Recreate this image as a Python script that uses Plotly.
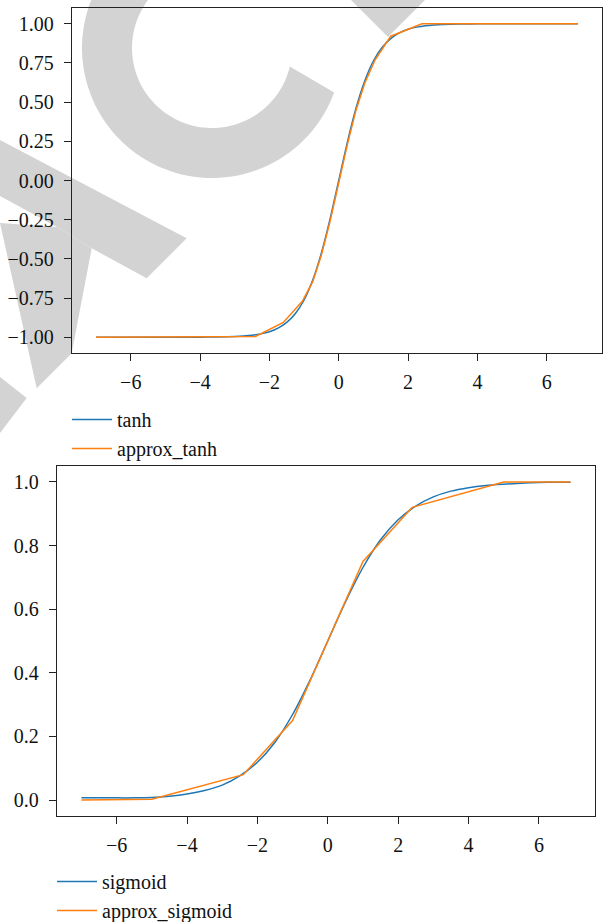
import numpy as np
import plotly.graph_objects as go

# ---------------- data ----------------
tanh_x = [-7.0, -6.0, -5.0, -4.0, -3.5, -3.0, -2.75, -2.5, -2.25, -2.0, -1.75, -1.5, -1.25,
          -1.0, -0.75, -0.5, -0.25, 0.0, 0.25, 0.5, 0.75, 1.0, 1.25, 1.5, 1.75, 2.0, 2.25,
          2.5, 2.75, 3.0, 3.5, 4.0, 5.0, 6.0, 6.9]
tanh_y = [-1.0, -1.0, -1.0, -0.999, -0.998, -0.995, -0.992, -0.987, -0.978, -0.964, -0.941,
          -0.905, -0.848, -0.762, -0.635, -0.462, -0.245, 0.0, 0.245, 0.462, 0.635, 0.762,
          0.848, 0.905, 0.941, 0.964, 0.978, 0.987, 0.992, 0.995, 0.998, 0.999, 1.0, 1.0, 1.0]

approx_tanh_x = [-7.0, -2.4, -1.6, -1.05, -0.75, -0.5, -0.25, 0.0, 0.25, 0.5, 0.75, 1.05,
                 1.5, 2.4, 6.9]
approx_tanh_y = [-1.0, -0.995, -0.905, -0.77, -0.645, -0.475, -0.26, -0.01, 0.23, 0.45,
                 0.62, 0.77, 0.92, 1.0, 1.0]

sigmoid_x = [-7.0, -6.5, -6.0, -5.5, -5.0, -4.5, -4.0, -3.5, -3.0, -2.5, -2.0, -1.5, -1.0,
             -0.5, 0.0, 0.5, 1.0, 1.5, 2.0, 2.5, 3.0, 3.5, 4.0, 4.5, 5.0, 5.5, 6.0, 6.5, 6.9]
sigmoid_y = [0.007, 0.007, 0.007, 0.007, 0.008, 0.012, 0.019, 0.030, 0.047, 0.076, 0.119,
             0.182, 0.269, 0.378, 0.5, 0.622, 0.731, 0.818, 0.881, 0.924, 0.953, 0.971,
             0.982, 0.989, 0.993, 0.996, 0.998, 0.999, 0.999]

approx_sigmoid_x = [-7.0, -5.0, -2.4, -1.0, 1.0, 2.4, 5.0, 6.9]
approx_sigmoid_y = [0.0, 0.003, 0.08, 0.25, 0.75, 0.92, 1.0, 1.0]

tanh_ticks = [-1.0, -0.75, -0.5, -0.25, 0.0, 0.25, 0.5, 0.75, 1.0]
sig_ticks = [0.0, 0.2, 0.4, 0.6, 0.8, 1.0]
x_ticks = [-6, -4, -2, 0, 2, 4, 6]

# ---------------- style ----------------
W, H = 605, 922
FONT = "Liberation Serif"
BLUE = "#1f77b4"
ORANGE = "#ff7f0e"
LW = 1.5
GRAY = "#d3d3d3"


def px(x, y):
    return x / W, 1 - y / H


def path_from(points):
    pts = [px(x, y) for x, y in points]
    return "M " + " L ".join(f"{a:.5f},{b:.5f}" for a, b in pts) + " Z"


fig = go.Figure()
fig.add_trace(go.Scatter(x=tanh_x, y=tanh_y, name="tanh", mode="lines",
                         line=dict(color=BLUE, width=LW, shape="spline", smoothing=0.8),
                         xaxis="x", yaxis="y", legend="legend"))
fig.add_trace(go.Scatter(x=approx_tanh_x, y=approx_tanh_y, name="approx_tanh", mode="lines",
                         line=dict(color=ORANGE, width=LW),
                         xaxis="x", yaxis="y", legend="legend"))
fig.add_trace(go.Scatter(x=sigmoid_x, y=sigmoid_y, name="sigmoid", mode="lines",
                         line=dict(color=BLUE, width=LW, shape="spline", smoothing=0.8),
                         xaxis="x2", yaxis="y2", legend="legend2"))
fig.add_trace(go.Scatter(x=approx_sigmoid_x, y=approx_sigmoid_y, name="approx_sigmoid",
                         mode="lines", line=dict(color=ORANGE, width=LW),
                         xaxis="x2", yaxis="y2", legend="legend2"))

axis_common = dict(showgrid=False, zeroline=False, showline=True, mirror=True,
                   linecolor="#222", linewidth=1.3, ticks="outside", ticklen=7,
                   tickwidth=1.2, tickcolor="#222", automargin=False,
                   tickfont=dict(family=FONT, size=20, color="#111"))

leg_common = dict(xanchor="left", yanchor="middle", xref="container", yref="container",
                  bgcolor="rgba(0,0,0,0)",
                  font=dict(family=FONT, size=20, color="#111"),
                  itemwidth=40, tracegroupgap=0)

fig.update_layout(
    width=W, height=H,
    margin=dict(l=0, r=0, t=0, b=0, autoexpand=False),
    paper_bgcolor="white",
    plot_bgcolor="rgba(0,0,0,0)",
    font=dict(family=FONT, size=20, color="#111"),
    xaxis=dict(domain=[72 / W, 602 / W], range=[-7.695, 7.595], anchor="y",
               tickvals=x_ticks, ticklabelstandoff=4, **axis_common),
    yaxis=dict(domain=[1 - 353 / H, 1 - 8 / H], range=[-1.1, 1.1], anchor="x",
               tickvals=tanh_ticks, tickformat=".2f", ticklabelstandoff=6, **axis_common),
    xaxis2=dict(domain=[57 / W, 595 / W], range=[-7.695, 7.595], anchor="y2",
                tickvals=x_ticks, ticklabelstandoff=4, **axis_common),
    yaxis2=dict(domain=[1 - 816 / H, 1 - 466 / H], range=[-0.05, 1.05], anchor="x2",
                tickvals=sig_ticks, tickformat=".1f", ticklabelstandoff=6, **axis_common),
    legend=dict(x=(72 - 5) / W, y=1 - 434 / H, **leg_common),
    legend2=dict(x=(57 - 5) / W, y=1 - 896 / H, **leg_common),
)

# ---------------- watermark (light gray letters behind the plot) ----------------
shapes = []
# "C" ring
cx, cy, r_in, r_out = 212, 48, 80, 130
a_out = np.radians(np.linspace(20, 240, 80))
a_in = np.radians(np.linspace(240, 13.4, 80))
ring = [(cx + r_out * np.cos(a), cy + r_out * np.sin(a)) for a in a_out] + \
       [(cx + r_in * np.cos(a), cy + r_in * np.sin(a)) for a in a_in]
shapes.append(path_from(ring))
# stroke end near the top
shapes.append(path_from([(388, 37), (336, -15), (440, -15)]))
# "A" strokes
shapes.append(path_from([(0, 140), (186.7, 238.3), (146.7, 278.3), (91.7, 248.3),
                         (57, 227), (0, 196)]))
shapes.append(path_from([(0, 223), (57, 227), (91.7, 248.3), (71.7, 353.3),
                         (36.7, 388.3)]))
# piece of the previous letter
shapes.append(path_from([(0, 377), (26.7, 398), (0, 433)]))

for p in shapes:
    fig.add_shape(type="path", path=p, xref="paper", yref="paper",
                  fillcolor=GRAY, line=dict(width=0), layer="below")

fig.write_html("out.html")
